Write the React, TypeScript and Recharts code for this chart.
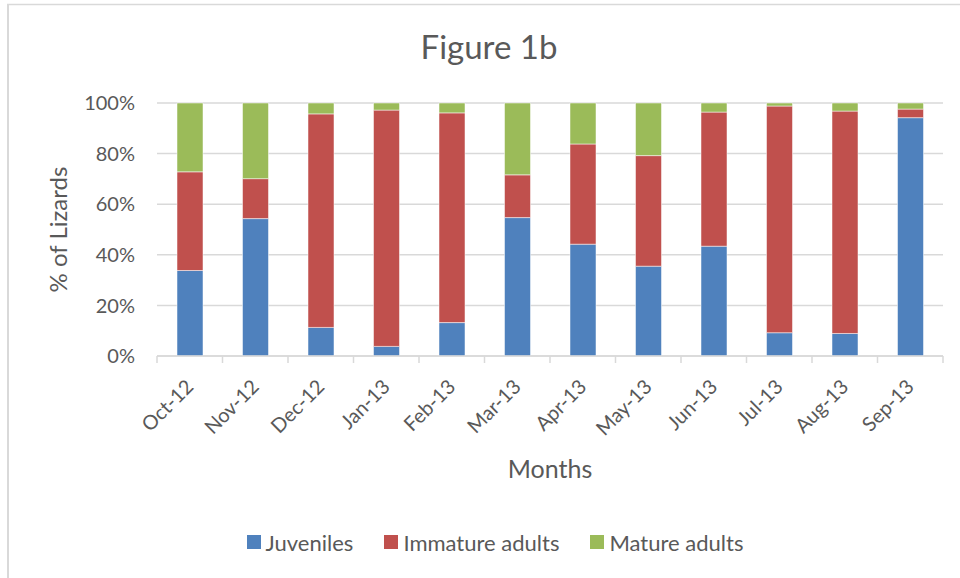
import React from 'react';
import { BarChart, Bar, XAxis, YAxis, CartesianGrid, Legend } from 'recharts';

const months = ['Oct-12', 'Nov-12', 'Dec-12', 'Jan-13', 'Feb-13', 'Mar-13', 'Apr-13', 'May-13', 'Jun-13', 'Jul-13', 'Aug-13', 'Sep-13'];
const juveniles = [33.8, 54.3, 11.3, 3.8, 13.2, 54.7, 44.2, 35.5, 43.4, 9.2, 8.9, 94.2];
const immatureAdults = [39.0, 15.8, 84.4, 93.4, 82.9, 16.9, 39.6, 43.7, 53.0, 89.6, 87.9, 3.4];
const matureAdults = [27.2, 29.9, 4.3, 2.8, 3.9, 28.4, 16.2, 20.8, 3.6, 1.2, 3.2, 2.4];
const seriesNames = ['Juveniles', 'Immature adults', 'Mature adults'];
const yTicks = [0, 0.2, 0.4, 0.6, 0.8, 1];

const data = months.map((m, i) => ({
  month: m,
  Juveniles: juveniles[i],
  'Immature adults': immatureAdults[i],
  'Mature adults': matureAdults[i],
}));

const FONT = 'Lato, "Open Sans", sans-serif';
const TEXT = '#595959';
const GRID = '#d9d9d9';
const PLOT_LEFT = 157;
const PLOT_RIGHT = 943;
const BAND = (PLOT_RIGHT - PLOT_LEFT) / months.length;

const XTick = (props: any) => {
  const { x, y, payload, index } = props;
  const px = x + 5;
  const py = y + 32;
  return (
    <g>
      <line x1={x - BAND / 2} y1={y} x2={x - BAND / 2} y2={y + 7} stroke={GRID} strokeWidth={1.5} />
      {index === months.length - 1 && (
        <line x1={x + BAND / 2} y1={y} x2={x + BAND / 2} y2={y + 7} stroke={GRID} strokeWidth={1.5} />
      )}
      <text
        x={px}
        y={py}
        textAnchor="end"
        transform={`rotate(-45, ${px}, ${py})`}
        fill={TEXT}
        fontSize={20}
        fontFamily={FONT}
      >
        {payload.value}
      </text>
    </g>
  );
};

const LegendContent = (props: any) => {
  const items = [...(props.payload || [])].sort(
    (a: any, b: any) => seriesNames.indexOf(a.value) - seriesNames.indexOf(b.value)
  );
  return (
    <div style={{ display: 'flex', justifyContent: 'center', alignItems: 'center', height: 28, fontFamily: FONT }}>
      {items.map((p: any, i: number) => (
        <div key={p.value} style={{ display: 'flex', alignItems: 'center', marginLeft: i === 0 ? 0 : 31 }}>
          <div style={{ width: 14, height: 14, background: p.color, marginRight: 5 }} />
          <span style={{ fontSize: 22, color: TEXT }}>{p.value}</span>
        </div>
      ))}
    </div>
  );
};

export default function App() {
  return (
    <div style={{ position: 'fixed', left: 0, top: 0, width: 960, height: 578, overflow: 'hidden', background: '#fff' }}>
      <BarChart
        width={960}
        height={578}
        data={data}
        stackOffset="expand"
        margin={{ top: 103, right: 960 - PLOT_RIGHT, bottom: 92, left: 0 }}
      >
        <CartesianGrid vertical={false} stroke={GRID} strokeWidth={1.5} />
        <XAxis
          dataKey="month"
          interval={0}
          height={130}
          tickLine={false}
          tickSize={0}
          tickMargin={0}
          axisLine={{ stroke: GRID, strokeWidth: 1.5 }}
          tick={<XTick />}
          label={{ value: 'Months', position: 'insideBottom', offset: 8, fill: TEXT, fontSize: 25, fontFamily: FONT }}
        />
        <YAxis
          width={PLOT_LEFT}
          domain={[0, 1]}
          ticks={yTicks}
          tickFormatter={(v: number) => `${Math.round(v * 100)}%`}
          tickLine={false}
          axisLine={false}
          tickSize={0}
          tickMargin={22}
          tick={{ fill: TEXT, fontSize: 20, fontFamily: FONT }}
          label={{
            value: '% of Lizards',
            angle: -90,
            position: 'insideLeft',
            offset: 58,
            fill: TEXT,
            fontSize: 24,
            fontFamily: FONT,
            style: { textAnchor: 'middle' },
          }}
        />
        <Legend
          layout="horizontal"
          verticalAlign="middle"
          align="center"
          content={<LegendContent />}
          wrapperStyle={{ position: 'absolute', top: 528, left: 0, width: 990, height: 28 }}
        />
        <Bar dataKey="Juveniles" stackId="a" fill="#4F81BD" barSize={26} stroke="#ffffff" strokeWidth={0.5} isAnimationActive={false} />
        <Bar dataKey="Immature adults" stackId="a" fill="#C0504D" barSize={26} stroke="#ffffff" strokeWidth={0.5} isAnimationActive={false} />
        <Bar dataKey="Mature adults" stackId="a" fill="#9BBB59" barSize={26} stroke="#ffffff" strokeWidth={0.5} isAnimationActive={false} />
      </BarChart>
      <svg width={960} height={578} style={{ position: 'absolute', left: 0, top: 0, pointerEvents: 'none' }}>
        <line x1={8} y1={4} x2={8} y2={578} stroke={GRID} strokeWidth={2} />
        <line x1={7} y1={4.5} x2={960} y2={4.5} stroke={GRID} strokeWidth={1.5} />
        <text x={489} y={59} textAnchor="middle" fill={TEXT} fontSize={33} fontFamily={FONT}>
          Figure 1b
        </text>
      </svg>
    </div>
  );
}
